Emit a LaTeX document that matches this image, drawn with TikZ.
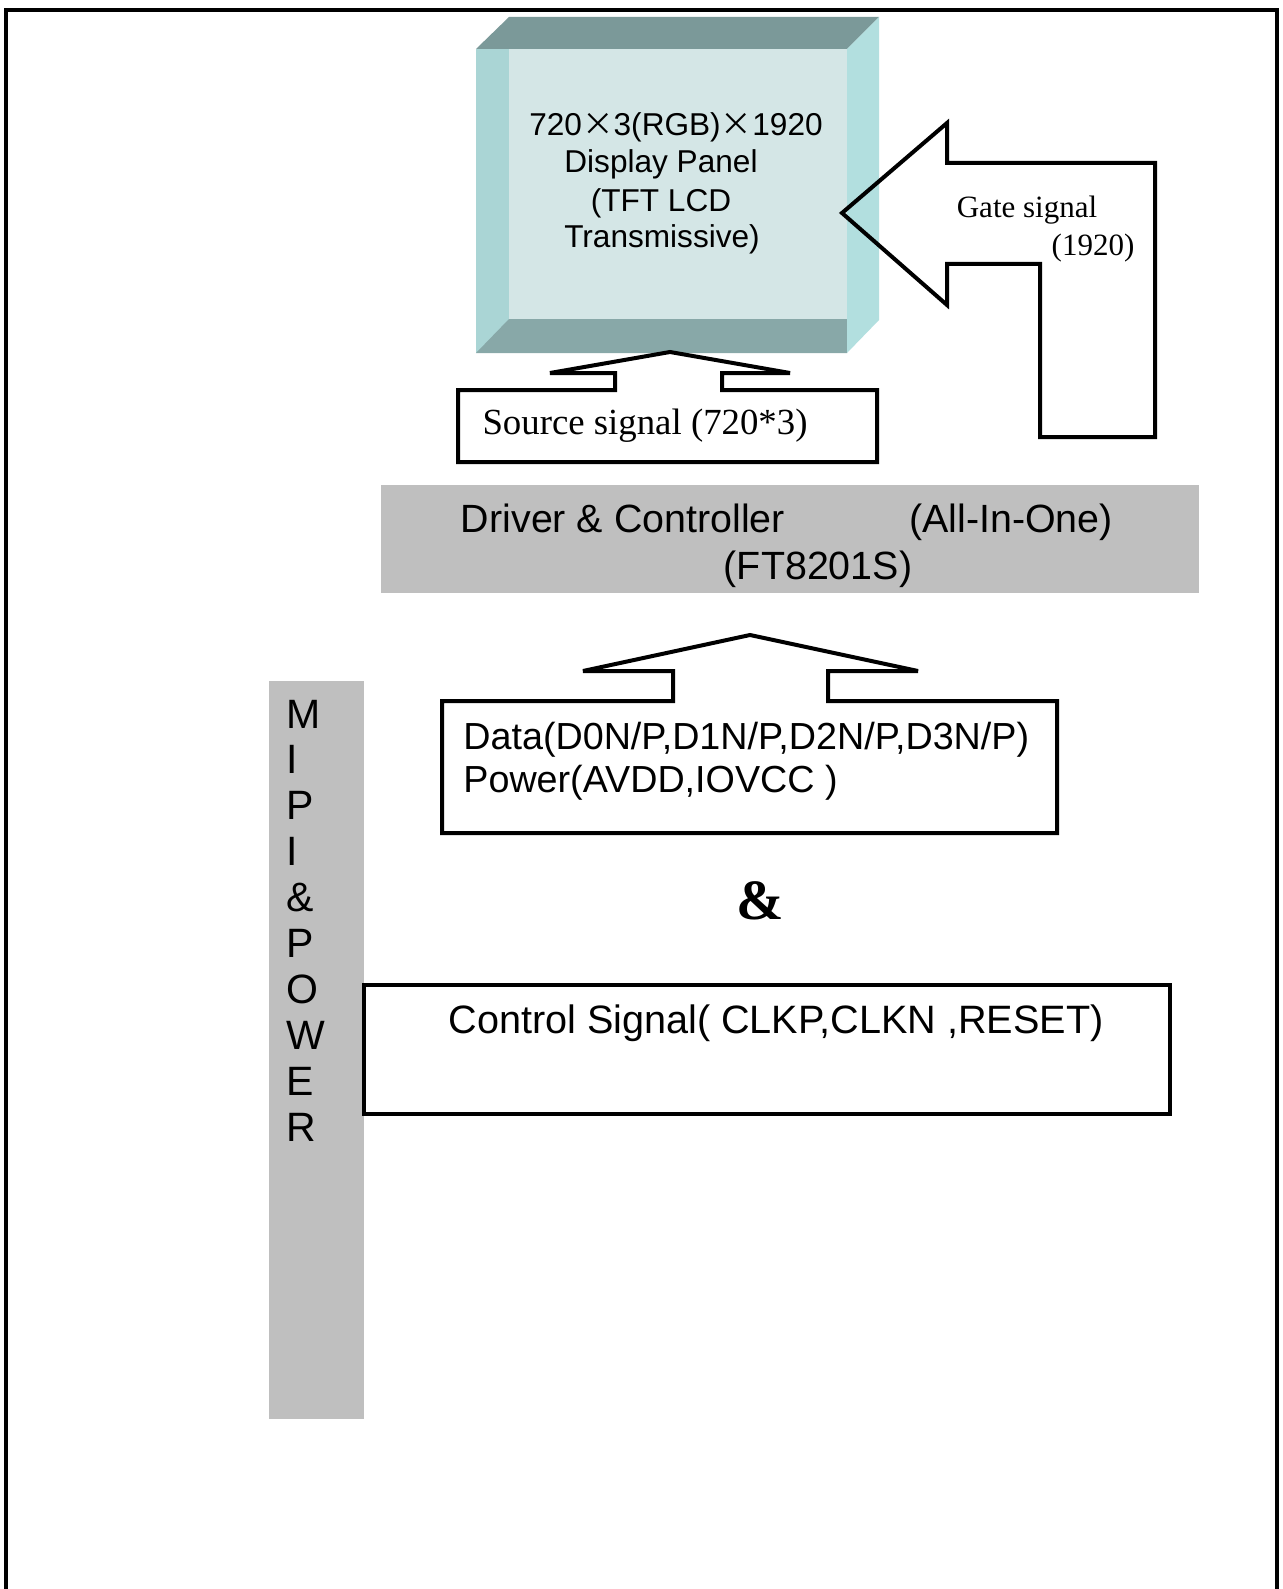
\documentclass[tikz,border=0pt]{standalone}
\usepackage{fontspec}
\setmainfont{Liberation Serif}
\newfontfamily\arialf{Liberation Sans}
\newfontfamily\tnrf{Liberation Serif}
\newfontfamily\cjkf{Noto Sans CJK SC}
\definecolor{topface}{RGB}{123,153,153}
\definecolor{leftbevel}{RGB}{170,213,213}
\definecolor{frontface}{RGB}{212,230,230}
\definecolor{bottomband}{RGB}{136,168,168}
\definecolor{rightface}{RGB}{178,223,223}
\definecolor{bargrey}{RGB}{191,191,191}
\tikzset{
  outline/.style={draw=black, line width=2pt, line join=miter, miter limit=3},
  sanslbl/.style={font=\arialf\fontsize{#1}{#1}\selectfont, inner sep=0pt, anchor=base},
  seriflbl/.style={font=\tnrf\fontsize{#1}{#1}\selectfont, inner sep=0pt, anchor=base},
}
\begin{document}
\begin{tikzpicture}[x=0.5pt,y=-0.5pt]
\useasboundingbox (0,0) rectangle (1282,1589);
\fill[white] (0,0) rectangle (1282,1589);
% outer frame (open at bottom)
\draw[line width=1.6pt] (6,1600) -- (6,10) -- (1277,10) -- (1277,1600);

% display panel (bevelled box)
\fill[topface] (476,49) -- (509,17) -- (879,17) -- (847,49) -- cycle;
\fill[leftbevel] (476,49) rectangle (509,353);
\fill[frontface] (509,49) rectangle (847,319);
\fill[bottomband] (509,319) -- (847,319) -- (847,353) -- (476,353) -- cycle;
\fill[rightface] (847,49) -- (879,17) -- (879,320) -- (847,353) -- cycle;
\node[sanslbl=15.8pt] (p1) at (676,136) {720{\cjkf ×}3(RGB){\cjkf ×}1920};
\node[sanslbl=15.8pt] (p2) at (661,173) {Display Panel};
\node[sanslbl=15.8pt] (p3) at (661,212) {(TFT LCD};
\node[sanslbl=15.8pt] (p4) at (662,248) {Transmissive)};

% gate signal arrow
\draw[outline] (842,213) -- (947,123) -- (947,163) -- (1155,163) -- (1155,437)
  -- (1040,437) -- (1040,264) -- (947,264) -- (947,305) -- cycle;
\node[seriflbl=15.5pt] (g1) at (1027,218) {Gate signal};
\node[seriflbl=15.5pt] (g2) at (1093,256) {(1920)};

% source signal arrow box
\draw[outline] (670,352) -- (790,373) -- (722,373) -- (722,390) -- (877,390)
  -- (877,462) -- (458,462) -- (458,390) -- (615,390) -- (615,373) -- (550,373) -- cycle;
\node[seriflbl=18.4pt] (src) at (645,434) {Source signal (720*3)};

% driver & controller bar
\fill[bargrey] (381,485) rectangle (1199,593);
\node[sanslbl=19.7pt] (drv1) at (623,532) {Driver \& Controller};
\node[sanslbl=19.7pt] (drv2) at (1011,532) {(All-In-One)};
\node[sanslbl=19.7pt] (drv3) at (818,579) {(FT8201S)};

% data / power arrow box
\draw[outline] (750,635) -- (918,671) -- (828,671) -- (828,701) -- (1057,701)
  -- (1057,833) -- (442,833) -- (442,701) -- (673,701) -- (673,671) -- (583,671) -- cycle;
\node[sanslbl=18.85pt, anchor=base west] (d1) at (463,749) {Data(D0N/P,D1N/P,D2N/P,D3N/P)};
\node[sanslbl=18.85pt, anchor=base west] (d2) at (463,792) {Power(AVDD,IOVCC )};

% ampersand
\node[font=\tnrf\bfseries\fontsize{28.5pt}{28.5pt}\selectfont, inner sep=0pt, anchor=base] (amp) at (760,919) {\&};

% MIPI & POWER bar
\fill[bargrey] (269,681) rectangle (364,1419);
\foreach \ch [count=\i from 0] in {M,I,P,I,\&,P,O,W,E,R}{
  \node[sanslbl=20.5pt, anchor=base west] (m\i) at (286,{728+45.9*\i}) {\ch};
}

% control signal box
\draw[outline, fill=white] (364,985) rectangle (1170,1114);
\node[sanslbl=19.8pt] (ctl) at (776,1033) {Control Signal( CLKP,CLKN ,RESET)};
\end{tikzpicture}
\end{document}
